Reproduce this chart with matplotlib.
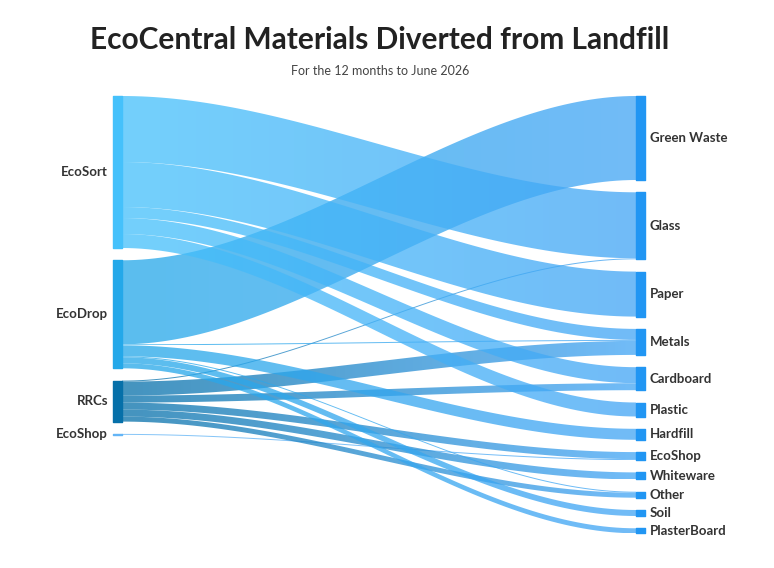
"""Sankey chart of EcoCentral materials diverted from landfill.

Draws the ribbons by hand with cubic curves and writes out.png.
"""

import matplotlib

matplotlib.use("Agg")
import matplotlib.pyplot as plt
import numpy as np
from matplotlib.colors import to_rgb
from matplotlib.patches import Polygon

INK = "#333333"
RIGHT_NODE = "#2196f3"

plt.rcParams.update(
    {
        "font.family": ["Lato", "DejaVu Sans"],
        "text.color": INK,
        "figure.facecolor": "white",
        "savefig.facecolor": "white",
    }
)

sources = ["EcoSort", "EcoDrop", "RRCs", "EcoShop"]
source_colors = ["#45c1fb", "#24a8e9", "#0670a9", "#64b5f6"]
targets = ["Green Waste", "Glass", "Paper", "Metals", "Cardboard", "Plastic",
           "Hardfill", "EcoShop", "Whiteware", "Other", "Soil", "PlasterBoard"]
# (source, target, tonnes-ish units)
flow_src = ["EcoSort", "EcoSort", "EcoSort", "EcoSort", "EcoSort",
            "EcoDrop", "EcoDrop", "EcoDrop", "EcoDrop", "EcoDrop", "EcoDrop",
            "RRCs", "RRCs", "RRCs", "RRCs", "RRCs", "RRCs",
            "EcoShop"]
flow_dst = ["Glass", "Paper", "Metals", "Cardboard", "Plastic",
            "Green Waste", "Metals", "Hardfill", "Other", "Soil", "PlasterBoard",
            "Glass", "Metals", "Cardboard", "EcoShop", "Whiteware", "Other",
            "EcoShop"]
flow_val = [66, 45, 11, 16, 14,
            84, 1, 11, 1, 6, 5,
            1, 14, 7, 7, 7, 5,
            1]

TOP, GAP = 96, 12.3
X_LEFT, X_RIGHT, NODE_W = 113, 636, 9


def stack(names, side):
    """Return {name: (y0, y1)} for the node column."""
    tot = {n: 0 for n in names}
    for s, d, v in zip(flow_src, flow_dst, flow_val):
        tot[s if side == "src" else d] += v
    pos, y = {}, TOP
    for n in names:
        pos[n] = (y, y + tot[n])
        y += tot[n] + GAP
    return pos


def ribbon(ax, x0, x1, a0, a1, b0, b1, c0, c1):
    """Draw a ribbon from [a0,a1] at x0 to [b0,b1] at x1, coloured c0 -> c1."""
    t = np.linspace(0, 1, 80)
    xs = x0 + (x1 - x0) * t
    s = 3 * t ** 2 - 2 * t ** 3
    top = a0 + (b0 - a0) * s
    bot = a1 + (b1 - a1) * s
    pts = np.vstack([np.column_stack([xs, top]), np.column_stack([xs[::-1], bot[::-1]])])
    poly = Polygon(pts, closed=True, facecolor="none", edgecolor="none")
    ax.add_patch(poly)
    g = np.linspace(0, 1, 200)[None, :, None]
    img = np.array(to_rgb(c0))[None, None, :] * (1 - g) + np.array(to_rgb(c1))[None, None, :] * g
    lo, hi = min(top.min(), bot.min()), max(top.max(), bot.max())
    im = ax.imshow(img, extent=[x0, x1, hi, lo], aspect="auto", alpha=0.75,
                   interpolation="bilinear", zorder=1)
    im.set_clip_path(poly)


def main():
    fig = plt.figure(figsize=(7.74, 5.68), dpi=100)
    ax = fig.add_axes([0, 0, 1, 1])

    left = stack(sources, "src")
    right = stack(targets, "dst")
    lcur = {n: left[n][0] for n in sources}
    rcur = {n: right[n][0] for n in targets}
    scol = dict(zip(sources, source_colors))

    # order ribbons by target at the source and by source at the target
    order = sorted(range(len(flow_val)),
                   key=lambda i: (sources.index(flow_src[i]), targets.index(flow_dst[i])))
    src_y = {}
    for i in order:
        src_y[i] = (lcur[flow_src[i]], lcur[flow_src[i]] + flow_val[i])
        lcur[flow_src[i]] += flow_val[i]
    order2 = sorted(range(len(flow_val)),
                    key=lambda i: (targets.index(flow_dst[i]), sources.index(flow_src[i])))
    for i in order2:
        d = flow_dst[i]
        a0, a1 = src_y[i]
        ribbon(ax, X_LEFT + NODE_W, X_RIGHT, a0, a1, rcur[d], rcur[d] + flow_val[i],
               scol[flow_src[i]], "#42a5f5")
        rcur[d] += flow_val[i]

    for n in sources:
        y0, y1 = left[n]
        ax.fill_between([X_LEFT, X_LEFT + NODE_W], y0, max(y1, y0 + 1), color=scol[n], zorder=2)
        ax.text(X_LEFT - 5, (y0 + y1) / 2, n, ha="right", va="center",
                fontsize=9.5, fontweight="bold")
    for n in targets:
        y0, y1 = right[n]
        ax.fill_between([X_RIGHT, X_RIGHT + NODE_W], y0, y1, color=RIGHT_NODE, zorder=2)
        ax.text(X_RIGHT + NODE_W + 5, (y0 + y1) / 2, n, ha="left", va="center",
                fontsize=9.5, fontweight="bold")

    ax.text(380, 40, "EcoCentral Materials Diverted from Landfill", ha="center",
            va="center", fontsize=21.5, fontweight="bold", color="#222222")
    ax.text(380, 71, "For the 12 months to June 2026", ha="center", va="center",
            fontsize=9, color="#444444")
    ax.set_xlim(0, 774)
    ax.set_ylim(568, 0)
    ax.axis("off")
    fig.savefig("out.png", dpi=100)
    plt.close(fig)


if __name__ == "__main__":
    main()
